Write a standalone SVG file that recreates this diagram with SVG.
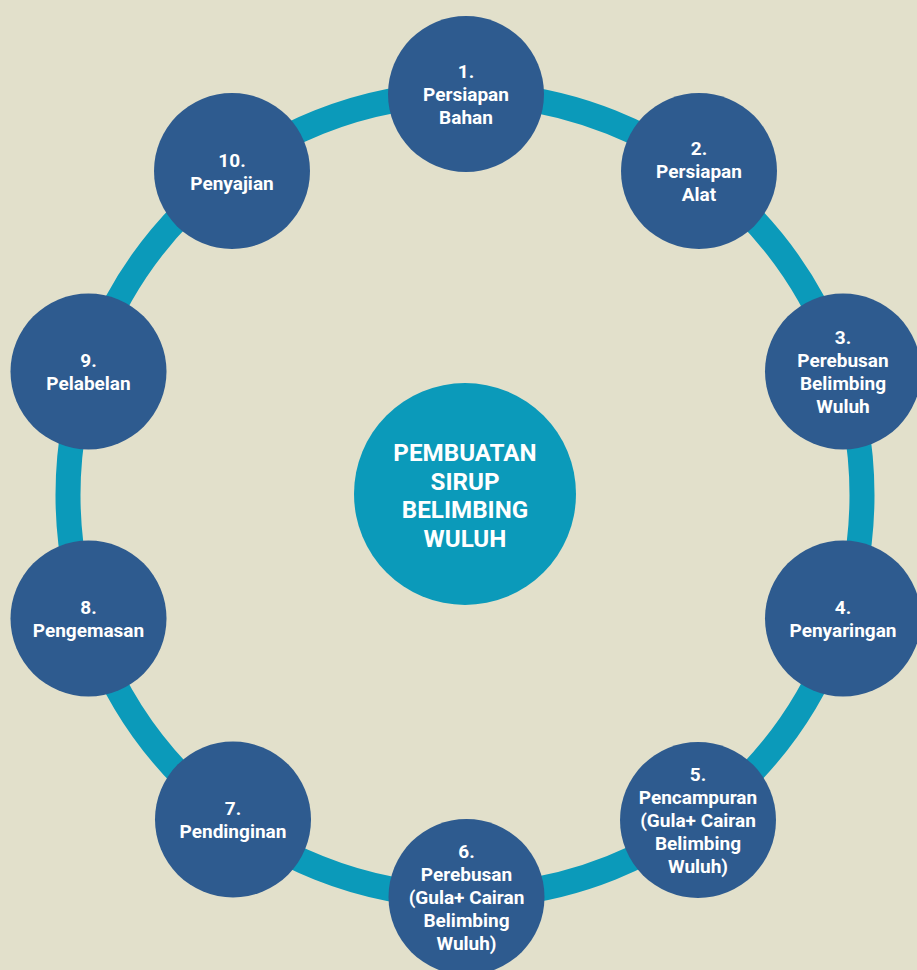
<svg xmlns="http://www.w3.org/2000/svg" width="917" height="970" viewBox="0 0 917 970">
<style>
.node{fill:#2e5b8f}
.t{font-family:Roboto,"Liberation Sans",sans-serif;font-weight:bold;font-size:19px;fill:#ffffff;text-anchor:middle}
.c{font-family:Roboto,"Liberation Sans",sans-serif;font-weight:bold;font-size:24.2px;fill:#ffffff;text-anchor:middle}
</style>
<rect width="917" height="970" fill="#e2e0cb"/>
<g id="connectors">
<ellipse cx="465" cy="495" rx="397" ry="401" fill="none" stroke="#0b9aba" stroke-width="25"/>
</g>
<g id="center">
<circle cx="465" cy="494" r="111" fill="#0b9aba"/>
<text class="c" x="465" y="461">PEMBUATAN</text>
<text class="c" x="465" y="490">SIRUP</text>
<text class="c" x="465" y="518">BELIMBING</text>
<text class="c" x="465" y="547">WULUH</text>
</g>
<g id="n1">
<circle class="node" cx="466" cy="94" r="78"/>
<text class="t" x="466" y="78">1.</text>
<text class="t" x="466" y="101">Persiapan</text>
<text class="t" x="466" y="124">Bahan</text>
</g>
<g id="n2">
<circle class="node" cx="699" cy="171" r="78"/>
<text class="t" x="699" y="155">2.</text>
<text class="t" x="699" y="178">Persiapan</text>
<text class="t" x="699" y="201">Alat</text>
</g>
<g id="n3">
<circle class="node" cx="843" cy="371.5" r="78"/>
<text class="t" x="843" y="344">3.</text>
<text class="t" x="843" y="367">Perebusan</text>
<text class="t" x="843" y="390">Belimbing</text>
<text class="t" x="843" y="413">Wuluh</text>
</g>
<g id="n4">
<circle class="node" cx="843" cy="618.5" r="78"/>
<text class="t" x="843" y="614">4.</text>
<text class="t" x="843" y="637">Penyaringan</text>
</g>
<g id="n5">
<circle class="node" cx="698" cy="820" r="78"/>
<text class="t" x="698" y="781">5.</text>
<text class="t" x="698" y="804">Pencampuran</text>
<text class="t" x="698" y="827">(Gula+ Cairan</text>
<text class="t" x="698" y="850">Belimbing</text>
<text class="t" x="698" y="873">Wuluh)</text>
</g>
<g id="n6">
<circle class="node" cx="466.5" cy="897" r="78"/>
<text class="t" x="466.5" y="858">6.</text>
<text class="t" x="466.5" y="881">Perebusan</text>
<text class="t" x="466.5" y="904">(Gula+ Cairan</text>
<text class="t" x="466.5" y="927">Belimbing</text>
<text class="t" x="466.5" y="950">Wuluh)</text>
</g>
<g id="n7">
<circle class="node" cx="233" cy="819.5" r="78"/>
<text class="t" x="233" y="815">7.</text>
<text class="t" x="233" y="838">Pendinginan</text>
</g>
<g id="n8">
<circle class="node" cx="88.5" cy="618.5" r="78"/>
<text class="t" x="88.5" y="614">8.</text>
<text class="t" x="88.5" y="637">Pengemasan</text>
</g>
<g id="n9">
<circle class="node" cx="88.5" cy="371.5" r="78"/>
<text class="t" x="88.5" y="367">9.</text>
<text class="t" x="88.5" y="390">Pelabelan</text>
</g>
<g id="n10">
<circle class="node" cx="232" cy="171" r="78"/>
<text class="t" x="232" y="167">10.</text>
<text class="t" x="232" y="190">Penyajian</text>
</g>
</svg>
